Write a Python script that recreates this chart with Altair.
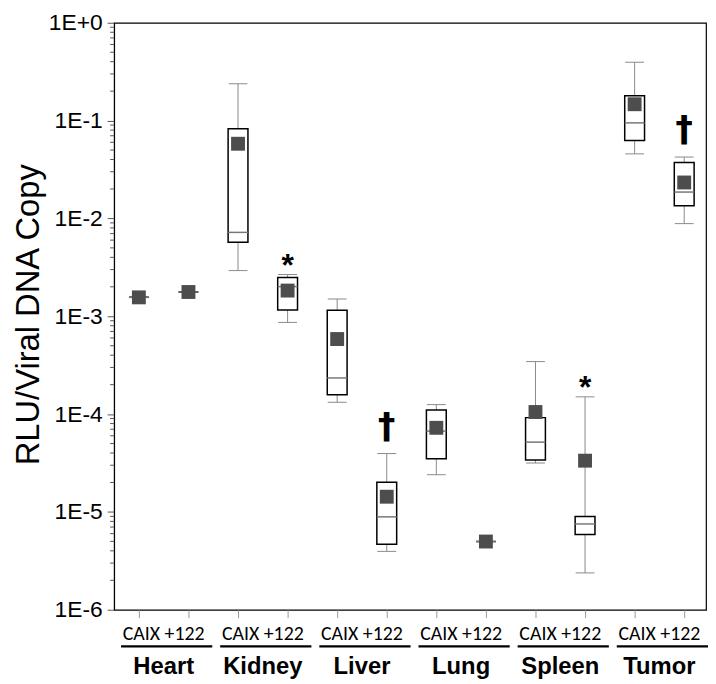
import altair as alt
import pandas as pd

# ---------------- data ----------------
tissues = ["Heart", "Kidney", "Liver", "Lung", "Spleen", "Tumor"]
conditions = ["CAIX", "+122"]

low = [1.56e-3, 1.77e-3, 2.93e-3, 8.65e-4, 1.32e-4, 3.95e-6,
       2.40e-5, 4.98e-6, 3.16e-5, 2.38e-6, 4.57e-2, 8.85e-3]
q1 = [1.56e-3, 1.77e-3, 5.71e-3, 1.157e-3, 1.58e-4, 4.68e-6,
      3.49e-5, 4.98e-6, 3.39e-5, 5.89e-6, 6.26e-2, 1.35e-2]
median = [1.56e-3, 1.77e-3, 7.20e-3, 2.01e-3, 2.34e-4, 8.90e-6,
          6.70e-5, 4.98e-6, 5.17e-5, 7.53e-6, 9.48e-2, 1.86e-2]
q3 = [1.56e-3, 1.77e-3, 8.26e-2, 2.49e-3, 1.15e-3, 2.01e-5,
      1.10e-4, 4.98e-6, 9.20e-5, 8.98e-6, 1.79e-1, 3.72e-2]
high = [1.56e-3, 1.77e-3, 2.38e-1, 2.67e-3, 1.50e-3, 3.95e-5,
        1.25e-4, 4.98e-6, 3.44e-4, 1.50e-4, 3.95e-1, 4.24e-2]
mean = [1.56e-3, 1.77e-3, 5.80e-2, 1.83e-3, 5.85e-4, 1.43e-5,
        7.24e-5, 4.98e-6, 1.05e-4, 3.34e-5, 1.47e-1, 2.33e-2]
signif = ["", "", "", "*", "", "\u2020", "", "", "", "*", "", "\u2020"]

y_tick_values = [1, 1e-1, 1e-2, 1e-3, 1e-4, 1e-5, 1e-6]
y_tick_labels = ["1E+0", "1E-1", "1E-2", "1E-3", "1E-4", "1E-5", "1E-6"]
y_title = "RLU/Viral DNA Copy"

# ---------------- tables ----------------
rows = []
for i in range(12):
    pos = i + 1
    rows.append(dict(pos=pos, tissue=tissues[i // 2], cond=conditions[i % 2],
                     low=low[i], q1=q1[i], median=median[i], q3=q3[i],
                     high=high[i], mean=mean[i], sig=signif[i],
                     boxl=pos - 0.2, boxr=pos + 0.2,
                     capl=pos - 0.19, capr=pos + 0.19))
df = pd.DataFrame(rows)

grp = pd.DataFrame({
    "tissue": tissues,
    "pair": [" ".join(conditions)] * len(tissues),
    "center": [2 * i + 1.5 for i in range(len(tissues))],
})
grp["linel"] = grp["center"] - 0.86
grp["liner"] = grp["center"] + 0.98

minor = pd.DataFrame({"v": [k * 10.0 ** e for e in range(-6, 0) for k in range(2, 10)]})

W, H = 597, 592
xs = alt.Scale(domain=[0.5, 12.44], nice=False, zero=False)
ys = alt.Scale(type="log", domain=[1e-6, 1], nice=False)

label_arr = "[" + ",".join("'%s'" % s for s in y_tick_labels) + "]"
yaxis = alt.Axis(values=y_tick_values,
                 labelExpr=label_arr + "[round(-log(datum.value)/LN10)]",
                 tickSize=7, tickColor="#555555", tickWidth=1,
                 labelFontSize=23, labelFont="Liberation Sans", labelColor="black",
                 labelPadding=5, labelFlush=False, labelOverlap=False,
                 domainColor="black", grid=False,
                 title=y_title, titleFontSize=33, titleFont="Liberation Sans",
                 titleFontWeight="normal", titleColor="black",
                 titleX=-86, titleY=H / 2 - 2, titleAngle=270, titleBaseline="middle")
xaxis = alt.Axis(values=list(range(1, 13)), labels=False, tickSize=8,
                 tickColor="#999999", domain=False, grid=False, title="")


def X(f):
    return alt.X(f, type="quantitative", scale=xs, axis=xaxis)


def Y(f):
    return alt.Y(f, type="quantitative", scale=ys, axis=yaxis)


base = alt.Chart(df)
grey = "#8a8a8a"

whisker = base.mark_rule(color=grey, strokeWidth=1).encode(
    x=X("pos"), y=Y("low"), y2="high")
cap_lo = base.mark_rule(color=grey, strokeWidth=1).encode(
    x=X("capl"), x2="capr", y=Y("low"))
cap_hi = base.mark_rule(color=grey, strokeWidth=1).encode(
    x=X("capl"), x2="capr", y=Y("high"))
box = base.mark_rect(fill="white", stroke="black", strokeWidth=1.5).encode(
    x=X("boxl"), x2="boxr", y=Y("q1"), y2="q3")
med = base.mark_rule(color="#777777", strokeWidth=1.5).encode(
    x=X("boxl"), x2="boxr", y=Y("median"))
mn = base.mark_square(size=196, color="#4d4d4d", opacity=1).encode(
    x=X("pos"), y=Y("mean"))
star = base.transform_filter("datum.sig == '*'").mark_text(
    fontSize=32, fontWeight="bold", font="Liberation Sans", baseline="alphabetic",
    color="black", dy=1).encode(x=X("pos"), y=Y("high"), text="sig:N")
dagger = base.transform_filter("datum.sig == '\u2020'").mark_text(
    fontSize=35, fontWeight="bold", font="DejaVu Sans", baseline="alphabetic",
    color="black", dy=-16).encode(x=X("pos"), y=Y("high"), text="sig:N")

minor_ticks = alt.Chart(minor).mark_rule(color="#555555", strokeWidth=1).encode(
    y=Y("v"), x=alt.value(-4), x2=alt.value(0))

gbase = alt.Chart(grp)
pair_txt = gbase.mark_text(fontSize=20, font="Carlito, Liberation Sans Narrow, Liberation Sans",
                           baseline="alphabetic", color="black").encode(
    x=X("center"), y=alt.value(H + 31), text="pair:N")
uline = gbase.mark_rule(color="black", strokeWidth=2.3).encode(
    x=X("linel"), x2="liner", y=alt.value(H + 37))
tissue_txt = gbase.mark_text(fontSize=24, fontWeight="bold", font="Liberation Sans",
                             baseline="alphabetic", color="black").encode(
    x=X("center"), y=alt.value(H + 65), text="tissue:N")

chart = alt.layer(whisker, cap_lo, cap_hi, box, med, mn, star, dagger,
                  minor_ticks, pair_txt, uline, tissue_txt).properties(
    width=W, height=H, autosize="none", background="white",
    padding={"left": 107, "top": 12, "right": 2, "bottom": 72},
).configure_view(stroke="black", strokeWidth=1.2)

chart.save("out.html", embed_options={"renderer": "svg", "actions": False})
